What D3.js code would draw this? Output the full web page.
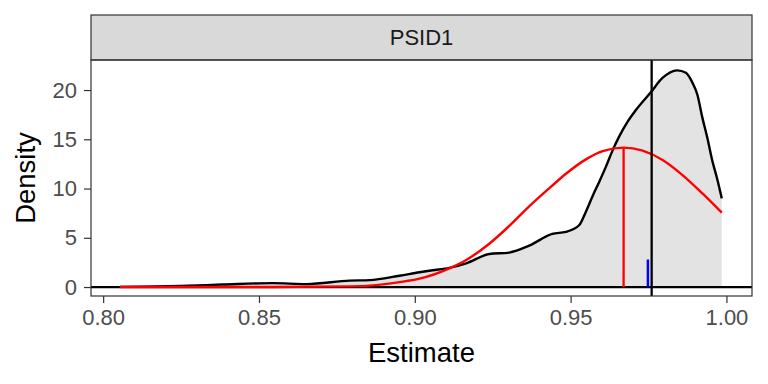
<!DOCTYPE html>
<html>
<head>
<meta charset="utf-8">
<script src="https://cdn.jsdelivr.net/npm/d3@7"></script>
<style>
  body { margin: 0; background: #fff; }
  svg text { font-family: "Liberation Sans", Arial, sans-serif; }
</style>
</head>
<body>
<script>
// facet label
var facetLabel = "PSID1";

// kernel density of the estimates
var densityX = [0.8054, 0.8246, 0.8384, 0.8544, 0.8653, 0.8791, 0.8855, 0.8951, 0.9015, 0.9057,
                0.9111, 0.9165, 0.9239, 0.9303, 0.9367, 0.9441, 0.9485, 0.9528, 0.9549, 0.9570,
                0.9592, 0.9613, 0.9635, 0.9656, 0.9683, 0.9710, 0.9758, 0.9794, 0.9842, 0.9870,
                0.9890, 0.9907, 0.9922, 0.9939, 0.9954, 0.9971, 0.9985];
var densityY = [0.02, 0.1, 0.25, 0.4, 0.3, 0.65, 0.7, 1.15, 1.5, 1.7,
                1.95, 2.4, 3.35, 3.5, 4.2, 5.4, 5.6, 6.3, 7.65, 9.2,
                10.7, 12.2, 13.9, 15.3, 16.8, 18.0, 19.8, 21.2, 22.0, 21.75,
                20.8, 19.5, 17.3, 15.1, 12.9, 10.9, 9.0];

// normal approximation curve
var normalX = [0.8054, 0.8246, 0.8544, 0.8791, 0.8855, 0.8951, 0.9015, 0.9111, 0.9165, 0.9239,
               0.9303, 0.9367, 0.9441, 0.9485, 0.9549, 0.9603, 0.9670, 0.9731, 0.9795, 0.9859,
               0.9923, 0.9985];
var normalY = [0.0, 0.0, 0.01, 0.07, 0.14, 0.5, 0.85, 1.9, 2.75, 4.4,
               6.2, 8.2, 10.3, 11.5, 12.96, 13.8, 14.15, 13.84, 12.9, 11.37,
               9.5, 7.55];

// reference marks
var normalMean = 0.967, normalPeak = 14.15;
var trueValue = 0.976;
var blueMark = 0.9748, blueHeight = 2.8;

var xTicks = [0.80, 0.85, 0.90, 0.95, 1.00];
var yTicks = [0, 5, 10, 15, 20];

var W = 768, H = 384;
var panel = {left: 91, right: 752, top: 60, bottom: 296};
var stripTop = 15;

var svg = d3.select("body").append("svg")
    .attr("width", W)
    .attr("height", H);

var x = d3.scaleLinear()
    .domain([0.7961, 1.0082])
    .range([panel.left, panel.right]);
var y = d3.scaleLinear()
    .domain([-0.91, 23.05])
    .range([panel.bottom, panel.top]);

// strip
svg.append("rect")
    .attr("x", panel.left).attr("y", stripTop)
    .attr("width", panel.right - panel.left)
    .attr("height", panel.top - stripTop)
    .attr("fill", "#d9d9d9")
    .attr("stroke", "#333333")
    .attr("stroke-width", 1.2);
svg.append("text")
    .attr("x", (panel.left + panel.right) / 2)
    .attr("y", (stripTop + panel.top) / 2)
    .attr("dy", "0.35em")
    .attr("text-anchor", "middle")
    .attr("fill", "#1a1a1a")
    .style("font-size", "22px")
    .text(facetLabel);

var g = svg.append("g");

// density area + line
var dens = densityX.map(function(d, i) { return [d, densityY[i]]; });
g.append("path")
    .datum(dens)
    .attr("fill", "#e3e3e3")
    .attr("d", d3.area().curve(d3.curveMonotoneX)
        .x(function(d) { return x(d[0]); })
        .y0(y(0))
        .y1(function(d) { return y(d[1]); }));

// zero line
g.append("line")
    .attr("x1", panel.left).attr("x2", panel.right)
    .attr("y1", y(0)).attr("y2", y(0))
    .attr("stroke", "black").attr("stroke-width", 2.3);

g.append("path")
    .datum(dens)
    .attr("fill", "none")
    .attr("stroke", "black")
    .attr("stroke-width", 2.4)
    .attr("d", d3.line().curve(d3.curveMonotoneX)
        .x(function(d) { return x(d[0]); })
        .y(function(d) { return y(d[1]); }));

// normal curve
var norm = normalX.map(function(d, i) { return [d, normalY[i]]; });
g.append("path")
    .datum(norm)
    .attr("fill", "none")
    .attr("stroke", "red")
    .attr("stroke-width", 2.4)
    .attr("d", d3.line().curve(d3.curveMonotoneX)
        .x(function(d) { return x(d[0]); })
        .y(function(d) { return y(d[1]); }));

g.append("line")
    .attr("x1", x(normalMean)).attr("x2", x(normalMean))
    .attr("y1", y(0)).attr("y2", y(normalPeak))
    .attr("stroke", "red").attr("stroke-width", 2.3);

g.append("line")
    .attr("x1", x(blueMark)).attr("x2", x(blueMark))
    .attr("y1", y(0)).attr("y2", y(blueHeight))
    .attr("stroke", "blue").attr("stroke-width", 2.5);

g.append("line")
    .attr("x1", x(trueValue)).attr("x2", x(trueValue))
    .attr("y1", panel.top).attr("y2", panel.bottom)
    .attr("stroke", "black").attr("stroke-width", 2.3);

// panel border
svg.append("rect")
    .attr("x", panel.left).attr("y", panel.top)
    .attr("width", panel.right - panel.left)
    .attr("height", panel.bottom - panel.top)
    .attr("fill", "none")
    .attr("stroke", "#333333")
    .attr("stroke-width", 1.2);

// axes
var xAxis = svg.append("g")
    .attr("transform", "translate(0," + panel.bottom + ")")
    .call(d3.axisBottom(x).tickValues(xTicks).tickFormat(d3.format(".2f")).tickSize(7).tickPadding(6));
var yAxis = svg.append("g")
    .attr("transform", "translate(" + panel.left + ",0)")
    .call(d3.axisLeft(y).tickValues(yTicks).tickSize(7).tickPadding(7));
[xAxis, yAxis].forEach(function(a) {
    a.select(".domain").remove();
    a.selectAll(".tick line").attr("stroke", "#333333").attr("stroke-width", 1.2);
    a.selectAll(".tick text").attr("fill", "#4d4d4d").style("font-size", "22px");
});

// axis titles
svg.append("text")
    .attr("x", (panel.left + panel.right) / 2)
    .attr("y", 362)
    .attr("text-anchor", "middle")
    .style("font-size", "27.5px")
    .text("Estimate");
svg.append("text")
    .attr("transform", "translate(35," + (panel.top + panel.bottom) / 2 + ") rotate(-90)")
    .attr("text-anchor", "middle")
    .style("font-size", "27.5px")
    .text("Density");
</script>
</body>
</html>
